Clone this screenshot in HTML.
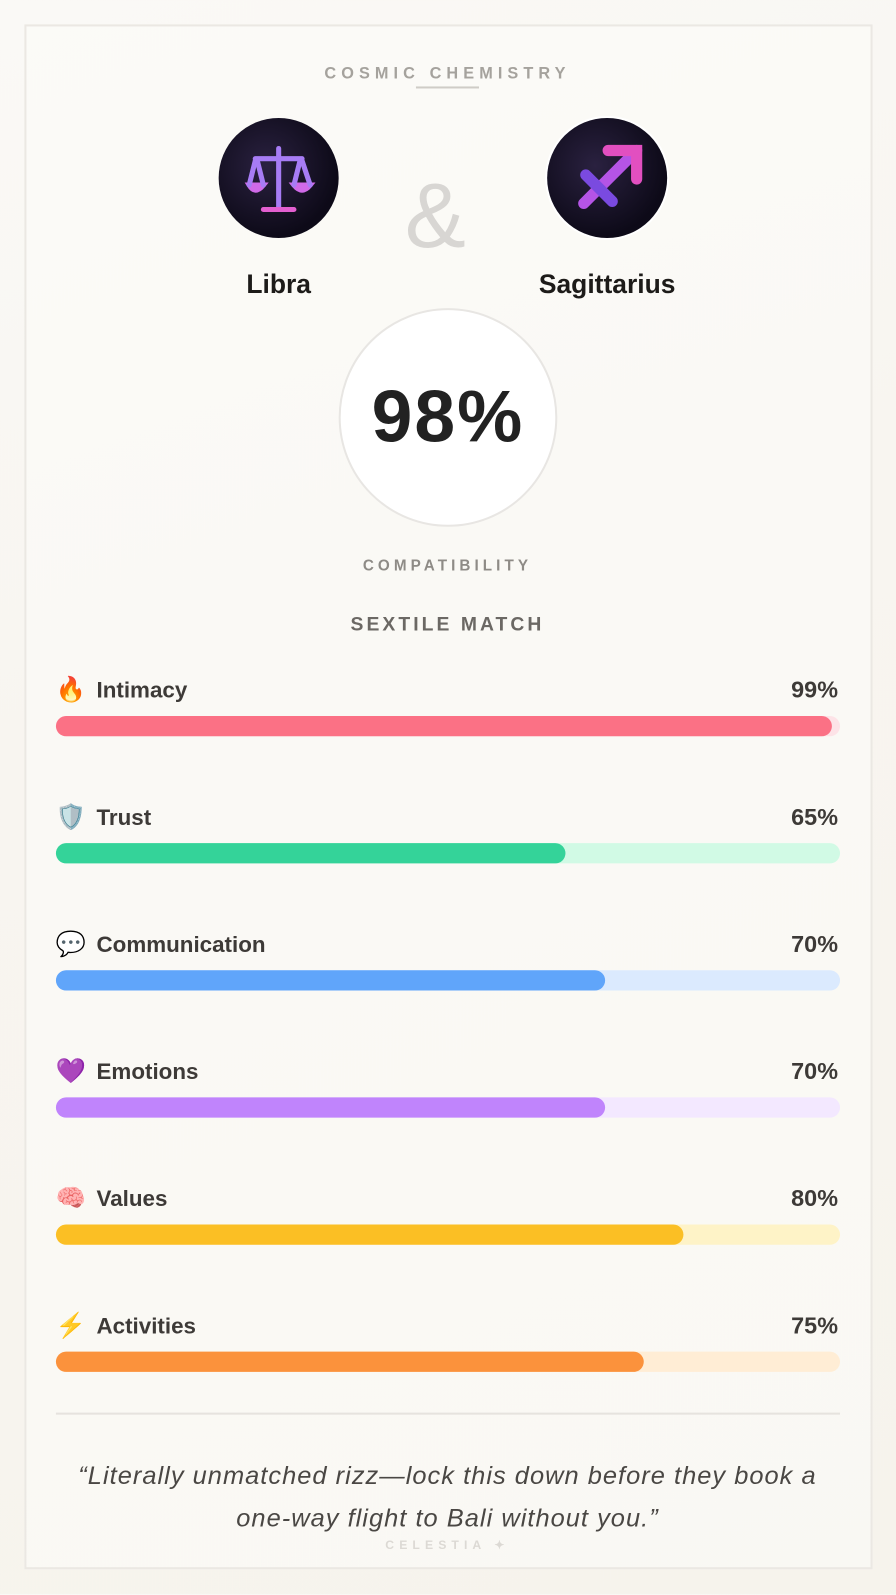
<!DOCTYPE html>
<html><head><meta charset="utf-8"><style>
*{margin:0;padding:0;box-sizing:border-box}
body{width:896px;height:1594px;background:linear-gradient(160deg,#faf9f6 0%,#f8f5f0 40%,#f6f3ec 100%);font-family:"Liberation Sans",sans-serif;position:relative;overflow:hidden}
#w{position:absolute;left:0;top:0;width:881px;height:1568px;transform:scale(1.017);transform-origin:0 0}
.card{position:absolute;left:24px;top:24px;width:834px;height:1519px;border:2px solid #ebe8e3;background:rgba(252,251,248,.6)}
.abs{position:absolute}
.t1{left:0;width:880px;top:64px;text-align:center;font-size:16px;font-weight:bold;letter-spacing:5px;color:#a5a29d}
.ul{left:409px;top:85px;width:62px;height:2px;background:#cfccc7}
.av{width:118px;height:118px;border-radius:50%;background:radial-gradient(circle at 40% 40%,#2a2140,#0d0a18 70%);}
.name{font-size:26px;font-weight:bold;color:#1d1b19;text-align:center;width:200px}
.amp{left:398px;top:168px;font-size:90px;color:#d8d6d3;font-family:"Liberation Sans",sans-serif;font-style:normal;line-height:1}
.big{left:333px;top:303px;width:215px;height:215px;border-radius:50%;background:#fff;border:2px solid #e8e6e3;text-align:center;line-height:211px;font-size:72px;font-weight:bold;color:#222;letter-spacing:2px}
.cap{left:0;width:880px;text-align:center;font-weight:bold;color:#8e8b86}
.row{position:absolute;left:55px;width:771px}
.lab{position:absolute;left:0;top:-2px;font-size:22px;font-weight:bold;color:#3d3a37;display:flex;align-items:center;gap:10px}
.pct{position:absolute;right:2px;top:-1px;font-size:23px;font-weight:bold;color:#3d3a37}
.tr{position:absolute;left:0;top:38px;width:771px;height:20px;border-radius:10px}
.fl{height:20px;border-radius:10px}
.q{left:20px;width:840px;top:1430px;text-align:center;font-style:italic;font-size:25px;line-height:42px;color:#4a4744;letter-spacing:1px;white-space:nowrap}
.hr{left:55px;top:1389px;width:771px;height:2px;background:#e6e3de}
</style></head><body><div id="w">
<div class="card"></div>
<div class="abs t1">COSMIC CHEMISTRY</div>
<div class="abs ul"></div>
<div class="abs av" style="left:215px;top:116px"><svg width="118" height="118" viewBox="0 0 118 118"><g fill="none" stroke="#a77cf5" stroke-width="5" stroke-linecap="round"><line x1="59" y1="30" x2="59" y2="88"/><line x1="36" y1="40" x2="82" y2="40"/><line x1="44" y1="90" x2="74" y2="90" stroke="#e35fd0"/><path d="M30 66 Q36 76 44 66 Z M74 66 Q82 76 90 66 Z" stroke="#d06ae8"/><line x1="36" y1="42" x2="30" y2="66"/><line x1="38" y1="42" x2="44" y2="66"/><line x1="80" y1="42" x2="74" y2="66"/><line x1="82" y1="42" x2="90" y2="66"/></g></svg></div>
<div class="abs av" style="left:538px;top:116px;box-shadow:0 0 0 2px #fff"><svg width="118" height="118" viewBox="0 0 118 118"><g stroke-linecap="round" stroke-width="11" fill="none"><line x1="36" y1="84" x2="88" y2="32" stroke="#b554e6"/><polyline points="60,32 88,32 88,60" stroke="#e24fc0"/><line x1="38" y1="56" x2="64" y2="82" stroke="#7a4ae0"/></g></svg></div>
<div class="abs amp">&amp;</div>
<div class="abs name" style="left:174px;top:264px">Libra</div>
<div class="abs name" style="left:497px;top:264px">Sagittarius</div>
<div class="abs big">98%</div>
<div class="abs cap" style="top:548px;font-size:15px;letter-spacing:4px">COMPATIBILITY</div>
<div class="abs cap" style="top:604px;font-size:19px;letter-spacing:3px;color:#6b6864">SEXTILE MATCH</div>

<div class="row" style="top:666px"><div class="lab"><span style="font-size:24px">🔥</span>Intimacy</div><div class="pct">99%</div><div class="tr" style="background:#fde3e7"><div class="fl" style="width:99%;background:#fb7185"></div></div></div>
<div class="row" style="top:791px"><div class="lab"><span style="font-size:24px">🛡️</span>Trust</div><div class="pct">65%</div><div class="tr" style="background:#d1fae5"><div class="fl" style="width:65%;background:#34d399"></div></div></div>
<div class="row" style="top:916px"><div class="lab"><span style="font-size:24px">💬</span>Communication</div><div class="pct">70%</div><div class="tr" style="background:#dbeafe"><div class="fl" style="width:70%;background:#60a5fa"></div></div></div>
<div class="row" style="top:1041px"><div class="lab"><span style="font-size:24px">💜</span>Emotions</div><div class="pct">70%</div><div class="tr" style="background:#f3e8ff"><div class="fl" style="width:70%;background:#c084fc"></div></div></div>
<div class="row" style="top:1166px"><div class="lab"><span style="font-size:24px">🧠</span>Values</div><div class="pct">80%</div><div class="tr" style="background:#fef3c7"><div class="fl" style="width:80%;background:#fbbf24"></div></div></div>
<div class="row" style="top:1291px"><div class="lab"><span style="font-size:24px">⚡</span>Activities</div><div class="pct">75%</div><div class="tr" style="background:#ffedd5"><div class="fl" style="width:75%;background:#fb923c"></div></div></div>

<div class="abs hr"></div>
<div class="abs q">“Literally unmatched rizz—lock this down before they book a<br>one-way flight to Bali without you.”</div>
<div class="abs cap" style="top:1512px;font-size:12px;letter-spacing:5px;color:#dcd9d4">CELESTIA ✦</div>
</div></body></html>
